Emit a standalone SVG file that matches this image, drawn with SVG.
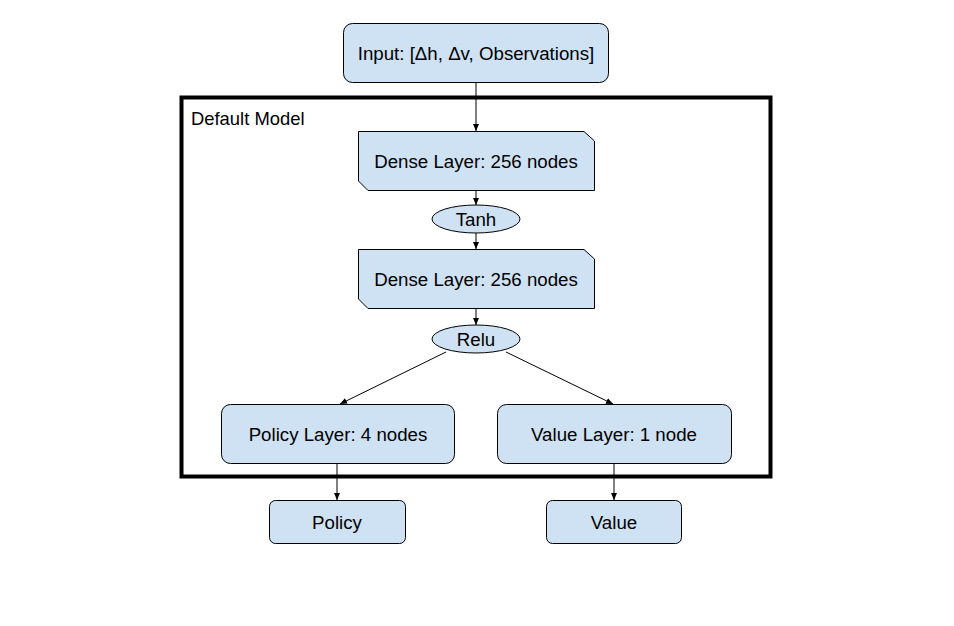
<svg xmlns="http://www.w3.org/2000/svg" width="954" height="626" viewBox="0 0 954 626">
<style>
.n{fill:#cfe2f3;stroke:#000;stroke-width:1}
.t{font-family:"Liberation Sans",Arial,sans-serif;font-size:18.7px;fill:#000;text-anchor:middle;dominant-baseline:central}
.c{stroke:#000;stroke-width:1;fill:none;marker-end:url(#a)}
</style>
<defs>
<marker id="a" viewBox="0 0 8 8" refX="7" refY="4" markerWidth="8" markerHeight="8" markerUnits="userSpaceOnUse" orient="auto">
<path d="M0,1 L7,4 L0,7 z" fill="#000"/>
</marker>
</defs>
<rect width="954" height="626" fill="#fff"/>
<g id="frame">
<rect x="181.5" y="97.5" width="589" height="379" fill="none" stroke="#000" stroke-width="4"/>
<text x="191" y="118" font-family="'Liberation Sans',Arial,sans-serif" font-size="18.4" dominant-baseline="central">Default Model</text>
</g>
<g id="connectors">
<line class="c" x1="476" y1="82" x2="476" y2="131"/>
<line class="c" x1="476" y1="190" x2="476" y2="205"/>
<line class="c" x1="476" y1="233" x2="476" y2="249"/>
<line class="c" x1="476" y1="308" x2="476" y2="325"/>
<line class="c" x1="446" y1="352" x2="340" y2="404"/>
<line class="c" x1="506" y1="352" x2="613" y2="404"/>
<line class="c" x1="337" y1="463" x2="337" y2="500"/>
<line class="c" x1="614" y1="463" x2="614" y2="500"/>
</g>
<g id="input">
<rect class="n" x="343.5" y="23.5" width="265" height="59" rx="9"/>
<text class="t" x="476" y="53">Input: [Δh, Δv, Observations]</text>
</g>
<g id="dense1">
<path class="n" d="M358.5,131.5 H584 L594.5,141 V190.5 H368 L358.5,181 Z"/>
<text class="t" x="476" y="161">Dense Layer: 256 nodes</text>
</g>
<g id="tanh">
<ellipse class="n" cx="476" cy="219" rx="44" ry="14"/>
<text class="t" x="476" y="219">Tanh</text>
</g>
<g id="dense2">
<path class="n" d="M358.5,249.5 H584 L594.5,259 V308.5 H368 L358.5,299 Z"/>
<text class="t" x="476" y="279">Dense Layer: 256 nodes</text>
</g>
<g id="relu">
<ellipse class="n" cx="476" cy="339" rx="44" ry="14"/>
<text class="t" x="476" y="339">Relu</text>
</g>
<g id="policyLayer">
<rect class="n" x="221.5" y="404.5" width="233" height="59" rx="9"/>
<text class="t" x="338" y="434">Policy Layer: 4 nodes</text>
</g>
<g id="valueLayer">
<rect class="n" x="497.5" y="404.5" width="234" height="59" rx="9"/>
<text class="t" x="614" y="434">Value Layer: 1 node</text>
</g>
<g id="policy">
<rect class="n" x="269.5" y="500.5" width="136" height="43" rx="6"/>
<text class="t" x="337" y="522">Policy</text>
</g>
<g id="value">
<rect class="n" x="546.5" y="500.5" width="135" height="43" rx="6"/>
<text class="t" x="614" y="522">Value</text>
</g>
</svg>
